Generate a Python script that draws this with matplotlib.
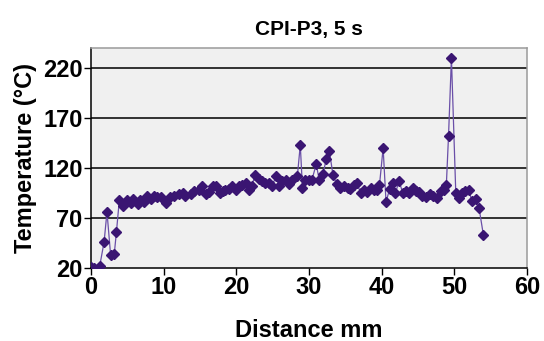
import matplotlib
matplotlib.use("Agg")
import matplotlib.pyplot as plt

# distance along the weld (mm) and peak temperature (C)
distance_mm = [
    0.0, 0.4, 1.2, 1.8, 2.2, 2.7, 3.2, 3.5, 3.9, 4.4,
    4.9, 5.5, 5.8, 6.4, 6.8, 7.3, 7.7, 8.2, 8.7, 9.1,
    9.6, 10.3, 10.9, 11.4, 12.1, 12.6, 13.0, 13.7, 14.2, 14.8,
    15.3, 15.8, 16.2, 16.8, 17.2, 17.7, 18.1, 18.5, 19.0, 19.4,
    19.9, 20.4, 20.8, 21.3, 21.7, 22.1, 22.6, 23.1, 23.6, 24.0,
    24.5, 24.9, 25.5, 25.9, 26.3, 26.8, 27.2, 27.7, 28.4, 28.8,
    29.1, 29.5, 30.0, 30.4, 31.0, 31.4, 31.9, 32.4, 32.8, 33.3,
    33.8, 34.3, 34.8, 35.3, 35.7, 36.2, 36.6, 37.1, 37.6, 38.0,
    38.5, 38.9, 39.4, 39.7, 40.2, 40.6, 41.1, 41.5, 41.9, 42.4,
    42.9, 43.4, 43.8, 44.3, 44.7, 45.2, 45.6, 46.1, 46.6, 47.0,
    47.6, 48.1, 48.6, 48.9, 49.2, 49.6, 50.2, 50.6, 51.1, 51.5,
    52.0, 52.4, 53.0, 53.4, 54.0,
]
temperature_c = [
    21, 20, 22, 46, 76, 33, 34, 56, 88, 82,
    88, 85, 89, 84, 88, 86, 92, 89, 92, 91,
    91, 85, 91, 92, 94, 95, 92, 94, 97, 98,
    102, 94, 96, 102, 102, 95, 97, 98, 99, 102,
    98, 102, 103, 105, 98, 102, 113, 109, 107, 105,
    105, 102, 112, 102, 107, 108, 104, 108, 112, 143,
    100, 108, 108, 108, 124, 108, 114, 129, 137, 113,
    104, 100, 102, 100, 99, 103, 105, 95, 98, 96,
    100, 98, 98, 103, 140, 86, 99, 105, 95, 107,
    95, 97, 95, 100, 97, 96, 92, 91, 94, 92,
    90, 97, 98, 103, 152, 230, 95, 90, 95, 97,
    98, 87, 89, 80, 53,
]
x_ticks = [0, 10, 20, 30, 40, 50, 60]
y_ticks = [20, 70, 120, 170, 220]

plt.rcParams["font.family"] = ["Liberation Sans", "DejaVu Sans"]
plt.rcParams["font.weight"] = "bold"

fig = plt.figure(figsize=(5.44, 3.41), dpi=100)
ax = fig.add_axes([91 / 544, 1 - 268 / 341, 436 / 544, 220 / 341])
ax.set_facecolor("#f0f0f0")

for y in y_ticks[1:]:
    ax.axhline(y, color="#111111", lw=1.2, zorder=1)

ax.plot(distance_mm, temperature_c, color="#6a4fa8", lw=0.9, zorder=2)
ax.plot(distance_mm, temperature_c, ls="none", marker="D", ms=4.8,
        color="#3a1572", mec="#3a1572", zorder=3)

ax.set_xlim(0, 60)
ax.set_ylim(20, 240)
ax.set_xticks(x_ticks)
ax.set_yticks(y_ticks)
ax.tick_params(axis="both", labelsize=17, length=5, width=1, direction="out", pad=1)
for lbl in ax.get_xticklabels() + ax.get_yticklabels():
    lbl.set_fontweight("bold")

for side in ["top", "right"]:
    ax.spines[side].set_color("#9a9a9a")
for side in ["left", "bottom"]:
    ax.spines[side].set_color("black")
for s in ax.spines.values():
    s.set_linewidth(1.1)

ax.set_title("CPI-P3, 5 s", fontsize=15, fontweight="bold", pad=9)
ax.set_xlabel("Distance mm", fontsize=17, fontweight="bold", labelpad=14)
ax.set_ylabel("Temperature (°C)", fontsize=17, fontweight="bold", labelpad=4)

fig.savefig("out.png", dpi=100)
